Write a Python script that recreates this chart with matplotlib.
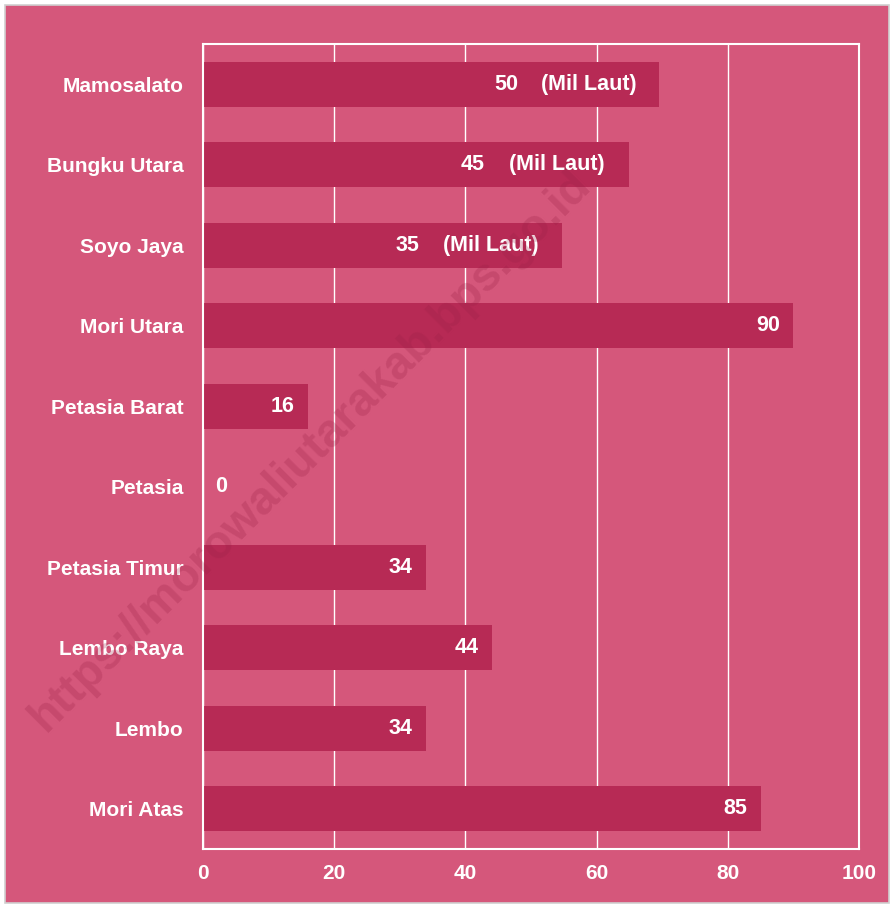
import matplotlib.pyplot as plt
from matplotlib.patches import Rectangle

kecamatan = ['Mamosalato', 'Bungku Utara', 'Soyo Jaya', 'Mori Utara', 'Petasia Barat',
             'Petasia', 'Petasia Timur', 'Lembo Raya', 'Lembo', 'Mori Atas']
jarak = [50, 45, 35, 90, 16, 0, 34, 44, 34, 85]
satuan = ['(Mil Laut)', '(Mil Laut)', '(Mil Laut)', '', '', '', '', '', '', '']
satuan_lebar = [19.5, 20, 19.7, 0, 0, 0, 0, 0, 0, 0]
xticks = [0, 20, 40, 60, 80, 100]

bg = '#d5577b'
bar_col = '#b72a55'
font = ['Liberation Sans', 'DejaVu Sans']

fig = plt.figure(figsize=(8.94, 9.08), dpi=100)
fig.patch.set_facecolor('white')
fig.patches.append(Rectangle((0.006, 0.005), 0.988, 0.989, transform=fig.transFigure,
                             facecolor=bg, edgecolor='#d0d0d0', linewidth=1.2, zorder=-10))

ax = fig.add_axes([0.2271, 0.065, 0.7338, 0.8865])
ax.set_facecolor(bg)
y = list(range(len(kecamatan)))

ax.barh(y, jarak, height=0.56, color=bar_col, zorder=2)
ax.barh(y, satuan_lebar, left=jarak, height=0.56, color=bar_col, zorder=2)

for i in y:
    v = jarak[i]
    if v > 0:
        ax.annotate(str(v), (v, i), xytext=(-9.5, 0), textcoords='offset points',
                    ha='right', va='center', color='white', fontsize=15.5,
                    fontweight='bold', family=font, zorder=4)
    else:
        ax.annotate(str(v), (v, i), xytext=(9, 0), textcoords='offset points',
                    ha='left', va='center', color='white', fontsize=15.5,
                    fontweight='bold', family=font, zorder=4)
    if satuan[i]:
        ax.annotate(satuan[i], (v, i), xytext=(7.5, 0), textcoords='offset points',
                    ha='left', va='center', color='white', fontsize=15.5,
                    fontweight='bold', family=font, zorder=4)

ax.set_ylim(len(kecamatan) - 0.5, -0.5)
ax.set_xlim(0, 100)
ax.set_xticks(xticks)
ax.set_yticks(y)
ax.set_yticklabels(kecamatan)
ax.tick_params(length=0, colors='white')
ax.tick_params(axis='x', pad=11, labelsize=15)
ax.tick_params(axis='y', pad=14, labelsize=15)
for lab in ax.get_xticklabels() + ax.get_yticklabels():
    lab.set_fontweight('bold')
    lab.set_family(font)
ax.grid(axis='x', color='white', linewidth=1, zorder=1)
ax.set_axisbelow(True)
for s in ax.spines.values():
    s.set_color('white')
    s.set_linewidth(1.5)

fig.text(0.347, 0.503, 'https://morowaliutarakab.bps.go.id', rotation=45,
         ha='center', va='center', fontsize=33.5, fontweight='bold', family=font,
         color='#9a1f45', alpha=0.25, zorder=10)

fig.savefig('out.png', dpi=100, facecolor=fig.get_facecolor())
